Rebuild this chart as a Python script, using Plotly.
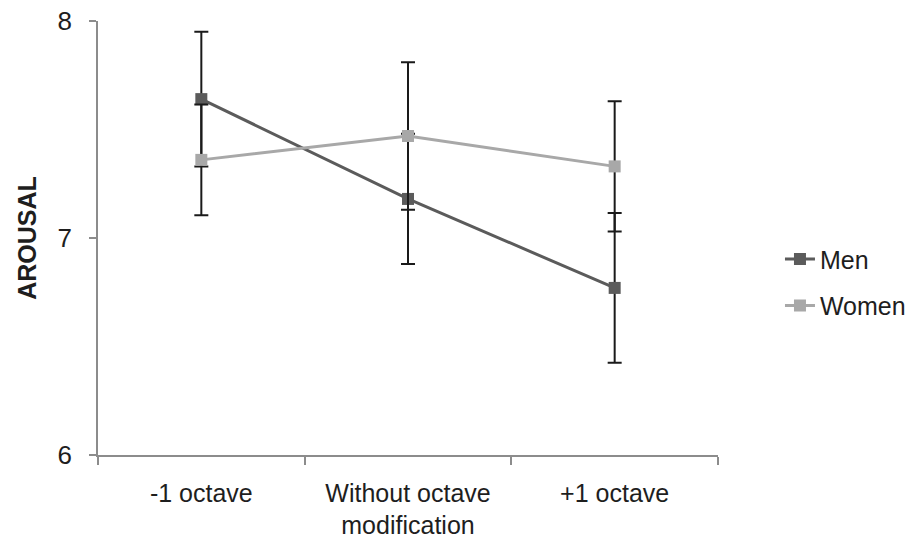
import plotly.graph_objects as go

categories = ["-1 octave", "Without octave<br>modification", "+1 octave"]
men_values = [7.64, 7.18, 6.77]
men_errors = [0.31, 0.30, 0.345]
women_values = [7.36, 7.47, 7.33]
women_errors = [0.255, 0.34, 0.30]
y_ticks = [6, 7, 8]

FONT = "Liberation Sans, Arial, sans-serif"
TXT = "#1e1e1e"

fig = go.Figure()
fig.add_trace(go.Scatter(
    x=categories, y=men_values, name="Men", mode="lines+markers",
    line=dict(color="#5b5b5b", width=3),
    marker=dict(symbol="square", size=12, color="#5b5b5b"),
    error_y=dict(type="data", array=men_errors, color="#1a1a1a", thickness=2, width=7),
    legendgroup="m",
))
fig.add_trace(go.Scatter(
    x=categories, y=women_values, name="Women", mode="lines+markers",
    line=dict(color="#a8a8a8", width=3),
    marker=dict(symbol="square", size=12, color="#a8a8a8"),
    error_y=dict(type="data", array=women_errors, color="#1a1a1a", thickness=2, width=7),
    legendgroup="w",
))

fig.update_layout(
    width=916, height=543,
    margin=dict(l=98, r=198, t=21, b=88, autoexpand=False),
    paper_bgcolor="white", plot_bgcolor="white",
    font=dict(family=FONT, size=25, color=TXT),
    showlegend=True,
    legend=dict(xref="container", yref="container", x=0.8515, y=0.565,
                xanchor="left", yanchor="top",
                font=dict(size=25, color=TXT), tracegroupgap=11,
                bgcolor="rgba(0,0,0,0)"),
)
fig.update_xaxes(
    type="category", range=[-0.5, 2.5], tickson="boundaries",
    showline=True, linecolor="#8c8c8c", linewidth=1.5,
    ticks="outside", ticklen=8, tickcolor="#8c8c8c", tickwidth=1.5,
    showgrid=False, zeroline=False, automargin=False,
    tickfont=dict(size=25, color=TXT), ticklabelstandoff=15,
)
fig.update_yaxes(
    range=[6, 8], tickvals=y_ticks, ticktext=[str(v) for v in y_ticks],
    showline=True, linecolor="#8c8c8c", linewidth=1.5,
    ticks="outside", ticklen=7, tickcolor="#8c8c8c", tickwidth=1.5,
    showgrid=False, zeroline=False, automargin=False,
    tickfont=dict(size=26, color=TXT), ticklabelstandoff=12,
    title=dict(text="<b>AROUSAL</b>", font=dict(size=25, color=TXT), standoff=14),
)

fig.write_html("out.html", config={"displayModeBar": False},
               post_script="document.body.style.margin='0';document.body.style.overflow='hidden';")
